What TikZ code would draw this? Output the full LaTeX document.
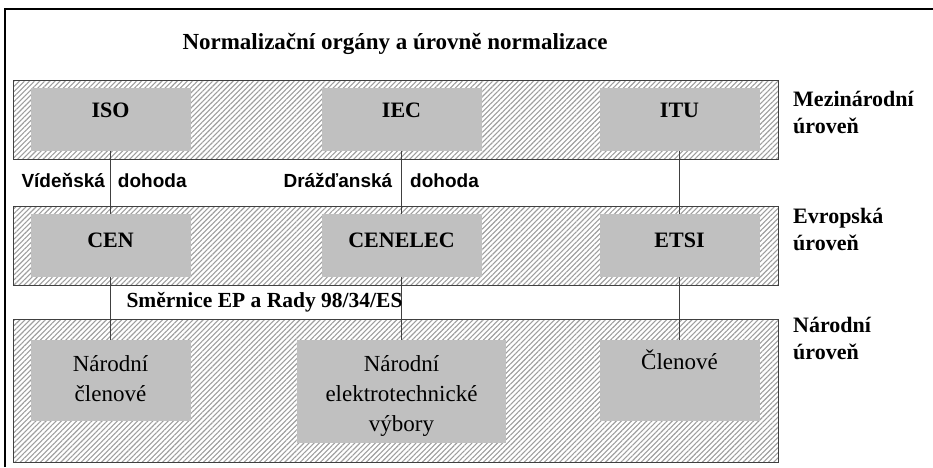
\documentclass[tikz,border=0pt]{standalone}
\usepackage{fontspec}
\setmainfont{Liberation Serif}
\newfontfamily\treatyfont{Liberation Sans}
\usetikzlibrary{patterns.meta}
\definecolor{boxgray}{HTML}{C0C0C0}
\definecolor{linkgray}{HTML}{404040}

\begin{document}
\begin{tikzpicture}[x=1pt, y=-1pt,
    levelband/.style={draw=black!75, line width=0.8pt, inner sep=0pt, minimum width=765pt,
        pattern={Lines[angle=45,distance=3.6pt,line width=1.1pt]}, pattern color=black!38},
    orgbox/.style={fill=boxgray, inner sep=0pt, minimum width=160pt},
    orgname/.style={anchor=base, font=\fontsize{22}{26}\selectfont\bfseries},
    members/.style={anchor=north, inner sep=0pt, align=center, font=\fontsize{23}{30}\selectfont},
    levelname/.style={anchor=north west, inner sep=0pt, align=left, font=\fontsize{22}{27}\selectfont\bfseries},
    treaty/.style={anchor=base west, font=\fontsize{19}{23}\selectfont\treatyfont\bfseries},
    link/.style={draw=linkgray, line width=1.4pt}
    ]
    \useasboundingbox (0,0) rectangle (933,467);
    \draw[line width=1.2pt] (5,467) -- (5,9) -- (933,9);

    %Title
    \node[anchor=base, font=\fontsize{23}{28}\selectfont\bfseries] (title) at (395,49)
        {Normalizační orgány a úrovně normalizace};

    %Bands
    \node[levelband, minimum height=79pt] (intl) at (395.5,119.5) {};
    \node[levelband, minimum height=79pt] (euro) at (395.5,245.5) {};
    \node[levelband, minimum height=143pt] (natl) at (395.5,390.5) {};

    \node[levelname] (intlname) at (793,91) {Mezinárodní\\úroveň};
    \node[levelname] (euroname) at (793,208) {Evropská\\úroveň};
    \node[levelname] (natlname) at (793,317) {Národní\\úroveň};

    %Boxes
    \node[orgbox, minimum height=63pt] (iso) at (110.5,119.5) {};
    \node[orgbox, minimum height=63pt] (iec) at (401.5,119.5) {};
    \node[orgbox, minimum height=63pt] (itu) at (679.5,119.5) {};

    \node[orgbox, minimum height=63pt] (cen) at (110.5,245.5) {};
    \node[orgbox, minimum height=63pt] (cenelec) at (401.5,245.5) {};
    \node[orgbox, minimum height=63pt] (etsi) at (679.5,245.5) {};

    \node[orgbox, minimum height=81pt] (nmembers) at (110.5,380.5) {};
    \node[orgbox, minimum height=103pt, minimum width=209pt] (ncommittees) at (401.5,391.5) {};
    \node[orgbox, minimum height=81pt] (members) at (679.5,380.5) {};

    %Texts
    \node[orgname] (isot) at (110.5,117.5) {ISO};
    \node[orgname] (iect) at (401.5,117.5) {IEC};
    \node[orgname] (itut) at (679.5,117.5) {ITU};

    \node[orgname] (cent) at (110.5,247.5) {CEN};
    \node[orgname] (cenelect) at (401.5,247.5) {CENELEC};
    \node[orgname] (etsit) at (679.5,247.5) {ETSI};

    \node[members] (nmemberst) at (110.5,355) {Národní\\členové};
    \node[members] (ncommitteest) at (401.5,355) {Národní\\elektrotechnické\\výbory};
    \node[members] (memberst) at (679.5,350) {Členové};

    %Lines
    \draw[link] (iso) -- (cen);
    \draw[link] (iec) -- (cenelec);
    \draw[link] (itu) -- (etsi);
    \draw[link] (cen) -- (nmembers);
    \draw[link] (cenelec) -- (ncommittees);
    \draw[link] (etsi) -- (members);

    \node[treaty] (vienna) at (18,187) {Vídeňská\hspace{13pt}dohoda};
    \node[treaty] (dresden) at (280,187) {Drážďanská\hspace{18pt}dohoda};
    \node[anchor=base west, font=\fontsize{21.5}{26}\selectfont\bfseries] (directive) at (123,307)
        {Směrnice EP a Rady 98/34/ES};
\end{tikzpicture}
\end{document}
